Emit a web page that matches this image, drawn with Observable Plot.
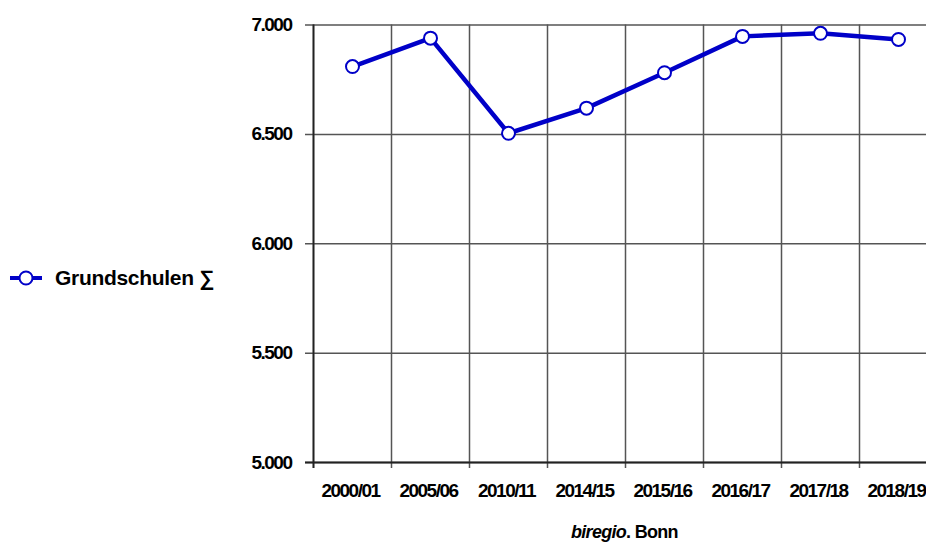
<!DOCTYPE html>
<html>
<head>
<meta charset="utf-8">
<script src="https://cdn.jsdelivr.net/npm/d3@7"></script>
<script src="https://cdn.jsdelivr.net/npm/@observablehq/plot@0.6"></script>
<style>
  html, body { margin: 0; padding: 0; background: #fff; overflow: hidden; }
  body { width: 926px; height: 542px; position: relative; font-family: "Liberation Sans", Arial, Helvetica, sans-serif; }
  #chart { position: absolute; left: 0; top: 0; }
  #chart svg text { letter-spacing: -1.5px; }
  #legend { position: absolute; left: 8px; top: 266px; display: flex; align-items: center; font-weight: bold; font-size: 21px; letter-spacing: -0.3px; color: #000; }
  #legend svg { margin-right: 11px; }
  #source { position: absolute; left: 571px; top: 522px; font-weight: bold; font-size: 18px; line-height: 20px; letter-spacing: -0.7px; color: #000; }
</style>
</head>
<body>
<div id="chart"></div>
<div id="legend">
  <svg width="36" height="16"><line x1="2" y1="8" x2="34" y2="8" stroke="#0000c8" stroke-width="4"/><circle cx="18" cy="8" r="6.5" fill="#fff" stroke="#0000c8" stroke-width="2"/></svg>
  <span>Grundschulen ∑</span>
</div>
<div id="source"><i>biregio</i>. Bonn</div>
<script>
const categories = ["2000/01", "2005/06", "2010/11", "2014/15", "2015/16", "2016/17", "2017/18", "2018/19"];
const values = [6810, 6940, 6505, 6620, 6782, 6948, 6962, 6934];
const yTicks = [5000, 5500, 6000, 6500, 7000];

const data = categories.map((c, i) => ({idx: i, label: c, value: values[i]}));
const idx = categories.map((_, i) => i);
const edges = categories.map((_, i) => i - 0.5);
const fmt = d => d3.format(",")(d).replace(/,/g, ".");
const blue = "#0000c8";

const chart = Plot.plot({
  width: 926,
  height: 542,
  marginLeft: 313,
  marginRight: 0,
  marginTop: 24.5,
  marginBottom: 80,
  style: {fontFamily: "'Liberation Sans', Arial, Helvetica, sans-serif", fontWeight: "bold", fontSize: "19px", color: "#000", background: "#fff", overflow: "hidden"},
  x: {type: "linear", domain: [-0.5, categories.length - 0.5], range: [313, 313 + 78 * categories.length], label: null},
  y: {type: "linear", domain: [5000, 7000], label: null},
  marks: [
    Plot.ruleY(yTicks, {y: d => d, x1: -0.5 - 8 / 78, x2: categories.length, stroke: "#555", strokeWidth: 1.5}),
    Plot.ruleX(edges, {x: d => d, y1: 7000, y2: 5000, insetBottom: -6, stroke: "#555", strokeWidth: 1.5}),
    Plot.axisY({ticks: yTicks, tickFormat: fmt, tickSize: 0, tickPadding: 22, fontSize: 19, fontWeight: "bold", label: null}),
    Plot.axisX({ticks: idx, tickFormat: i => categories[i], tickSize: 0, tickPadding: 21, dx: -2, fontSize: 19, fontWeight: "bold", label: null}),
    Plot.ruleX([-0.5], {x: d => d, y1: 7000, y2: 5000, insetBottom: -6, stroke: "#222", strokeWidth: 1.8}),
    Plot.ruleY([5000], {y: d => d, x1: -0.5 - 8 / 78, x2: categories.length, stroke: "#222", strokeWidth: 1.8}),
    Plot.line(data, {x: "idx", y: "value", stroke: blue, strokeWidth: 4.5}),
    Plot.dot(data, {x: "idx", y: "value", r: 6.5, fill: "#fff", stroke: blue, strokeWidth: 2})
  ]
});
document.getElementById("chart").appendChild(chart);
</script>
</body>
</html>
